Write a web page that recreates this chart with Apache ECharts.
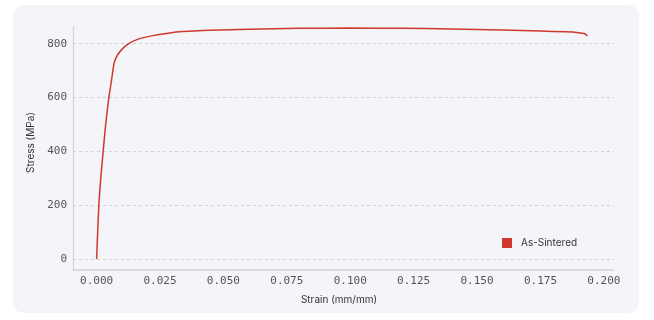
<!DOCTYPE html>
<html>
<head>
<meta charset="utf-8">
<script src="https://cdn.jsdelivr.net/npm/echarts@6/dist/echarts.min.js"></script>
<style>
html,body{margin:0;padding:0;background:#ffffff;}
#card{position:absolute;left:13px;top:5px;width:626px;height:308px;background:#f4f5f9;border-radius:11px;}
#chart{position:absolute;left:0;top:0;width:654px;height:320px;}
</style>
</head>
<body>
<div id="card"></div>
<div id="chart"></div>
<script>
// Data
const seriesName = 'As-Sintered';
const strain = [0, 0.0009, 0.0017, 0.0026, 0.0035, 0.0048, 0.0059, 0.0069, 0.0079, 0.0098, 0.0125, 0.0164, 0.0217, 0.0282, 0.034, 0.045, 0.06, 0.08, 0.1, 0.12, 0.14, 0.16, 0.175, 0.185, 0.19, 0.1925, 0.1935];
const stress = [0, 200, 306, 400, 492, 597, 665, 727, 752, 777, 799, 817, 829, 839, 845, 850, 854, 857, 858, 857, 855, 851, 847, 844, 841, 837, 829];
const xTickStep = 0.025;
const yTickStep = 200;

const points = strain.map((s, i) => [s, stress[i]]);
const mono = 'DejaVu Sans Mono';
const sans = 'Inter';

const chart = echarts.init(document.getElementById('chart'), null, {renderer: 'canvas'});
chart.setOption({
  backgroundColor: 'transparent',
  animation: false,
  grid: {left: 73, right: 40, top: 27, bottom: 50, containLabel: false},
  legend: {
    left: 497, top: 233,
    icon: 'rect', itemWidth: 10, itemHeight: 10,
    textStyle: {fontFamily: sans, fontSize: 10, color: '#333', padding: [0, 0, 0, 4]},
    data: [seriesName]
  },
  xAxis: {
    type: 'value',
    min: -0.0093, max: 0.204,
    minInterval: xTickStep, maxInterval: xTickStep,
    name: 'Strain (mm/mm)',
    nameLocation: 'middle', nameGap: 25,
    nameTextStyle: {fontFamily: sans, fontSize: 10, color: '#333', padding: [0, 9, 0, 0]},
    axisLine: {show: true, onZero: false, lineStyle: {color: '#d0d2d8', width: 1.5}},
    axisTick: {show: false},
    splitLine: {show: false},
    axisLabel: {
      showMinLabel: false, showMaxLabel: false,
      fontFamily: mono, fontSize: 11, color: '#555', margin: 6,
      formatter: v => v.toFixed(3)
    }
  },
  yAxis: {
    type: 'value',
    min: -41, max: 862,
    minInterval: yTickStep, maxInterval: yTickStep,
    name: 'Stress (MPa)',
    nameLocation: 'middle', nameGap: 36, nameRotate: 90,
    nameTextStyle: {fontFamily: sans, fontSize: 10, color: '#333', padding: [0, 0, 0, 12]},
    axisLine: {show: true, onZero: false, lineStyle: {color: '#d0d2d8', width: 1.2}},
    axisTick: {show: false},
    splitLine: {show: true, showMinLine: false, showMaxLine: false, lineStyle: {color: '#cfd1d6', type: [3, 3], width: 1}},
    axisLabel: {
      showMinLabel: false, showMaxLabel: false,
      fontFamily: mono, fontSize: 11, color: '#555', margin: 6,
      formatter: v => String(Math.round(v))
    }
  },
  series: [{
    name: seriesName,
    type: 'line',
    data: points,
    smooth: 0.25,
    showSymbol: false,
    lineStyle: {color: '#d0392e', width: 1.5},
    itemStyle: {color: '#d0392e'}
  }]
});
</script>
</body>
</html>
